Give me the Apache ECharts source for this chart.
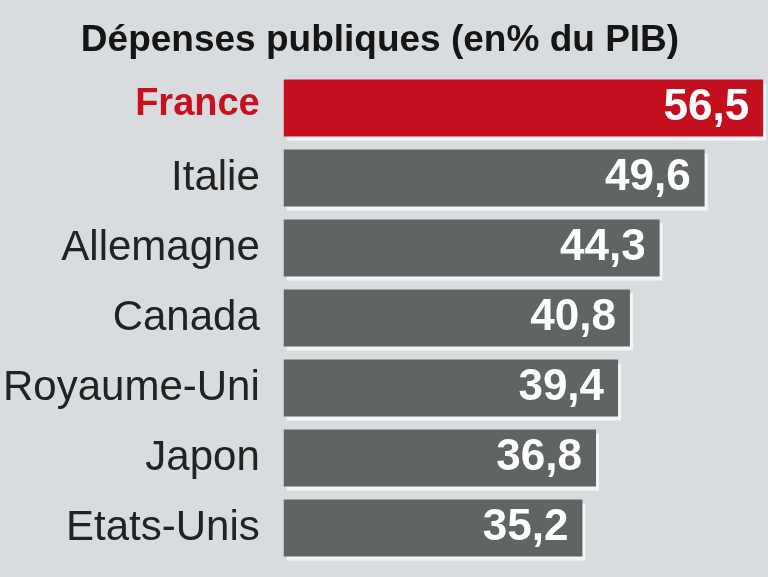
<!DOCTYPE html>
<html><head><meta charset="utf-8">
<script src="https://cdn.jsdelivr.net/npm/echarts@6/dist/echarts.min.js"></script>
<style>html,body{margin:0;padding:0;background:#d8dcdf;}#c{width:768px;height:577px;}</style>
</head><body><div id="c"></div>
<script>
var categories = ['France', 'Italie', 'Allemagne', 'Canada', 'Royaume-Uni', 'Japon', 'Etats-Unis'];
var values = [56.5, 49.6, 44.3, 40.8, 39.4, 36.8, 35.2];
var highlight = 'France';

var chart = echarts.init(document.getElementById('c'));
chart.setOption({
  backgroundColor: '#d8dcdf',
  animation: false,
  title: {
    text: 'Dépenses publiques (en% du PIB)',
    left: 375, top: 17, textAlign: 'center',
    textStyle: { fontFamily: '"Liberation Sans", Arial, sans-serif', fontWeight: 'bold', fontSize: 37, color: '#151515' }
  },
  grid: { left: 280, right: 4, top: 73, bottom: 14, containLabel: false },
  xAxis: { type: 'value', min: 0, max: 56.6, show: false },
  yAxis: {
    type: 'category', inverse: true, data: categories,
    axisLine: { show: false }, axisTick: { show: false },
    axisLabel: {
      margin: 24, fontSize: 42, fontFamily: '"Liberation Sans", Arial, sans-serif',
      formatter: function (v) { return v === highlight ? '{h|' + v + '}' : v; },
      color: '#222',
      rich: { h: { fontSize: 38, fontWeight: 'bold', color: '#c8101e', fontFamily: '"Liberation Sans", Arial, sans-serif', padding: [0, 0, 6, 0] } }
    }
  },
  series: [{
    type: 'bar', barWidth: 57,
    data: values.map(function (v, i) {
      var isH = categories[i] === highlight;
      return { value: v, itemStyle: { color: isH ? '#c40f1f' : '#5f6562', borderWidth: 0,
        shadowColor: 'rgba(245,248,250,0.9)', shadowOffsetX: 3, shadowOffsetY: 4, shadowBlur: 0 } };
    }),
    label: {
      show: true, position: 'insideRight', distance: 14,
      formatter: function (p) { return String(p.value).replace('.', ','); },
      color: '#fff', fontWeight: 'bold', fontSize: 44, fontFamily: '"Liberation Sans", Arial, sans-serif'
    }
  }]
});
</script></body></html>
